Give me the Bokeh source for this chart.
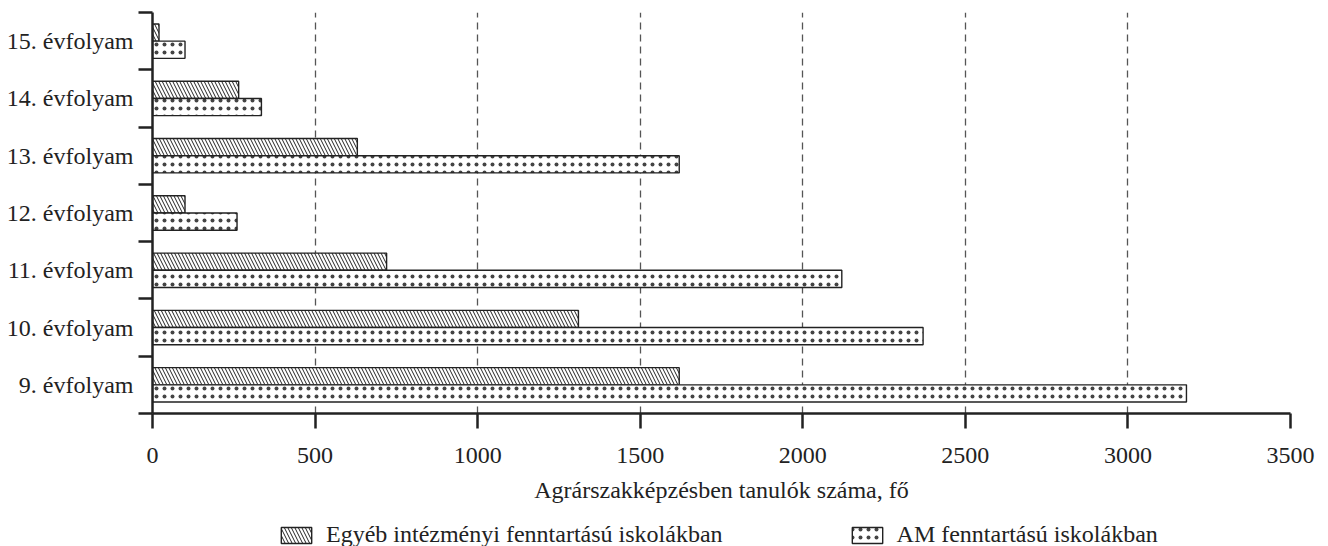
import numpy as np
from bokeh.plotting import figure
from bokeh.models import (ColumnDataSource, Range1d, FixedTicker, Legend, LegendItem)
from bokeh.layouts import column
from bokeh.transform import dodge
from bokeh.embed import file_html
from bokeh.resources import INLINE

# ---- data ----
categories = ["9. évfolyam", "10. évfolyam", "11. évfolyam", "12. évfolyam",
              "13. évfolyam", "14. évfolyam", "15. évfolyam"]
egyeb = [1620, 1310, 720, 100, 630, 265, 20]
am = [3180, 2370, 2120, 260, 1620, 335, 100]
x_ticks = [0, 500, 1000, 1500, 2000, 2500, 3000, 3500]
series_names = ["Egyéb intézményi fenntartású iskolákban", "AM fenntartású iskolákban"]
x_title = "Agrárszakképzésben tanulók száma, fő"

FONT = "Liberation Serif"
FS = "24px"
INK = "#222222"

HATCH1 = dict(fill_color="white", line_color=INK, line_width=1.4,
              hatch_pattern="\\", hatch_color=INK, hatch_scale=7, hatch_weight=1)
HATCH2 = dict(fill_color="white", line_color=INK, line_width=1.4,
              hatch_pattern=".", hatch_color="#444444", hatch_scale=8, hatch_weight=0.5)

pos = [i + 0.5 for i in range(len(categories))]
src = ColumnDataSource(dict(y=pos, egyeb=egyeb, am=am))

W = 1328
H1 = 506
p = figure(width=W, height=H1, output_backend="svg", toolbar_location=None,
           x_range=Range1d(0, 3500), y_range=Range1d(0, len(categories)),
           min_border_left=152, min_border_right=W - 1290, min_border_top=12,
           min_border_bottom=H1 - 413)
p.outline_line_color = None

p.hbar(y=dodge("y", 0.15), left=0, right="egyeb", height=0.3, source=src, **HATCH1)
p.hbar(y=dodge("y", -0.15), left=0, right="am", height=0.3, source=src, **HATCH2)

# grid
p.ygrid.grid_line_color = None
p.xgrid.grid_line_color = "#555555"
p.xgrid.grid_line_dash = "7 5"
p.xgrid.grid_line_width = 1.3
p.xgrid.ticker = FixedTicker(ticks=x_ticks)

# x axis
xa = p.xaxis[0]
xa.ticker = FixedTicker(ticks=x_ticks)
xa.axis_line_width = 2.5
xa.axis_line_color = INK
xa.major_tick_line_width = 2.5
xa.major_tick_line_color = INK
xa.major_tick_out = 15
xa.major_tick_in = 0
xa.minor_tick_line_color = None
xa.major_label_text_font = FONT
xa.major_label_text_font_size = FS
xa.major_label_text_color = INK
xa.major_label_standoff = 19
xa.axis_label = x_title
xa.axis_label_text_font = FONT
xa.axis_label_text_font_size = FS
xa.axis_label_text_font_style = "normal"
xa.axis_label_text_color = INK
xa.axis_label_standoff = 11

# y axis
ya = p.yaxis[0]
ya.ticker = FixedTicker(ticks=pos, minor_ticks=list(range(len(categories) + 1)))
ya.major_label_overrides = {pos[i]: categories[i] for i in range(len(categories))}
ya.axis_line_width = 2.5
ya.axis_line_color = INK
ya.major_tick_line_color = None
ya.major_tick_out = 0
ya.major_tick_in = 0
ya.minor_tick_line_width = 2.5
ya.minor_tick_line_color = INK
ya.minor_tick_out = 14
ya.minor_tick_in = 0
ya.major_label_text_font = FONT
ya.major_label_text_font_size = FS
ya.major_label_text_color = INK
ya.major_label_standoff = 5

# ---- legend strip ----
lg = figure(width=W, height=40, output_backend="svg", toolbar_location=None,
            x_range=Range1d(0, 1), y_range=Range1d(0, 1),
            min_border_left=152, min_border_right=W - 1290, min_border_top=0,
            min_border_bottom=0, x_axis_type=None, y_axis_type=None)
lg.outline_line_color = None
lg.xgrid.grid_line_color = None
lg.ygrid.grid_line_color = None
# swatch-only renderers (NaN data: nothing drawn in the strip itself)
hidden = ColumnDataSource(dict(y=np.array([np.nan]), l=np.array([np.nan]), r=np.array([np.nan])))
d1 = lg.hbar(y="y", left="l", right="r", height=0.3, source=hidden, **HATCH1)
d2 = lg.hbar(y="y", left="l", right="r", height=0.3, source=hidden, **HATCH2)

legend = Legend(items=[LegendItem(label=series_names[0], renderers=[d1]),
                       LegendItem(label=series_names[1], renderers=[d2])],
                orientation="horizontal", location=(125, -2),
                label_text_font=FONT, label_text_font_size=FS, label_text_color=INK,
                glyph_width=38, glyph_height=20, label_standoff=11, spacing=125,
                padding=0, margin=0, border_line_color=None, background_fill_alpha=0)
lg.add_layout(legend)

open("out.html", "w").write(file_html(column(p, lg, spacing=0), INLINE))
